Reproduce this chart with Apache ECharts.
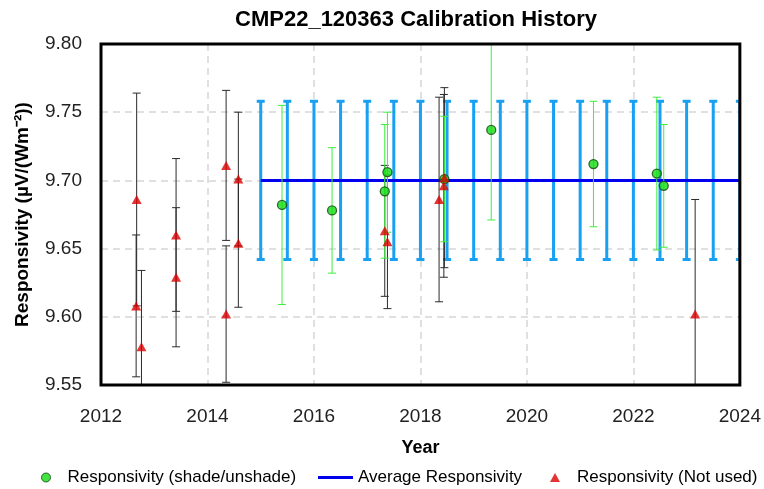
<!DOCTYPE html>
<html>
<head>
<meta charset="utf-8">
<script src="https://cdn.jsdelivr.net/npm/echarts@6/dist/echarts.min.js"></script>
<style>html,body{margin:0;padding:0;background:#fff}#c{width:764px;height:489px}</style>
</head>
<body>
<div id="c"></div>
<script>
// ---- data ----
const greenYears  = [2015.40, 2016.34, 2017.33, 2017.38, 2018.45, 2019.33, 2021.25, 2022.44, 2022.57];
const greenValues = [9.682, 9.678, 9.692, 9.706, 9.701, 9.737, 9.712, 9.705, 9.696];
const greenErrors = [0.073, 0.046, 0.049, 0.044, 0.046, 0.066, 0.046, 0.056, 0.045];

const redYears  = [2012.67, 2012.66, 2012.76, 2013.41, 2013.41, 2014.35, 2014.35, 2014.58, 2014.58, 2017.33, 2017.38, 2018.35, 2018.44, 2018.45, 2023.16];
const redValues = [9.686, 9.608, 9.578, 9.660, 9.629, 9.711, 9.602, 9.701, 9.654, 9.663, 9.655, 9.686, 9.696, 9.702, 9.602];
const redErrors = [0.078, 0.052, 0.056, 0.056, 0.051, 0.055, 0.050, 0.049, 0.047, 0.048, 0.049, 0.075, 0.067, 0.066, 0.084];

const avgYears = [2015.0, 2015.5, 2016.0, 2016.5, 2017.0, 2017.5, 2018.0, 2018.5, 2019.0, 2019.5, 2020.0, 2020.5, 2021.0, 2021.5, 2022.0, 2022.5, 2023.0, 2023.5, 2024.0];
const avgValue = 9.70;
const avgError = 0.058;

const xTicks = [2012, 2014, 2016, 2018, 2020, 2022, 2024];
const yTicks = [9.55, 9.60, 9.65, 9.70, 9.75, 9.80];

const titleText = 'CMP22_120363 Calibration History';
const xName = 'Year';
const yName = 'Responsivity (µV/(Wm⁻²))';
const nameGreen = 'Responsivity (shade/unshade)';
const nameAvg = 'Average Responsivity';
const nameRed = 'Responsivity (Not used)';

// ---- build ----
const zip3 = (a, b, c) => a.map((v, i) => [v, b[i], c[i]]);
const greenErr = zip3(greenYears, greenValues, greenErrors);
const redErr = zip3(redYears, redValues, redErrors);
const avgErr = avgYears.map(x => [x, avgValue, avgError]);

function errRender(color, width, capHalf) {
  return function (params, api) {
    const x = api.value(0), y = api.value(1), e = api.value(2);
    const t = api.coord([x, y + e]);
    const b = api.coord([x, y - e]);
    const st = { stroke: color, lineWidth: width, lineCap: 'butt' };
    return {
      type: 'group',
      children: [
        { type: 'line', shape: { x1: t[0], y1: t[1], x2: b[0], y2: b[1] }, style: st },
        { type: 'line', shape: { x1: t[0] - capHalf, y1: t[1], x2: t[0] + capHalf, y2: t[1] }, style: st },
        { type: 'line', shape: { x1: b[0] - capHalf, y1: b[1], x2: b[0] + capHalf, y2: b[1] }, style: st }
      ]
    };
  };
}

const FONT = '"Liberation Sans", Arial, sans-serif';
const chart = echarts.init(document.getElementById('c'));
const splitStyle = { color: '#d6d6d6', width: 1.5, type: [7, 5] };
chart.setOption({
  animation: false,
  backgroundColor: '#fff',
  title: {
    text: titleText, left: 411, top: 4, textAlign: 'center',
    textStyle: { fontFamily: FONT, fontWeight: 'bold', fontSize: 22, color: '#000' }
  },
  grid: {
    left: 101, right: 23, top: 44, bottom: 104, show: true, z: 10,
    borderColor: '#000', borderWidth: 3, backgroundColor: 'transparent'
  },
  legend: [
    { left: 36, top: 464, itemWidth: 9, itemHeight: 9, symbolKeepAspect: true,
      data: [{ name: nameGreen, icon: 'circle', itemStyle: { color: '#11dd11', borderColor: '#114411', borderWidth: 1 } }],
      textStyle: { fontFamily: FONT, fontSize: 17, color: '#000', padding: [0, 0, 0, 12] } },
    { left: 313, top: 464, itemWidth: 35, itemHeight: 3, data: [{ name: nameAvg, icon: 'rect' }],
      textStyle: { fontFamily: FONT, fontSize: 17, color: '#000' } },
    { left: 545, top: 464, itemWidth: 10, itemHeight: 9, symbolKeepAspect: true,
      data: [{ name: nameRed, icon: 'triangle' }],
      textStyle: { fontFamily: FONT, fontSize: 17, color: '#000', padding: [0, 0, 0, 12] } }
  ],
  xAxis: {
    type: 'value', min: xTicks[0], max: xTicks[xTicks.length - 1], interval: 2,
    name: xName, nameLocation: 'middle', nameGap: 54,
    nameTextStyle: { fontFamily: FONT, fontWeight: 'bold', fontSize: 18, color: '#000' },
    axisLine: { show: false }, axisTick: { show: false },
    axisLabel: { fontFamily: FONT, fontSize: 19, color: '#222', margin: 22, formatter: v => String(Math.round(v)) },
    splitLine: { show: true, showMinLine: false, showMaxLine: false, lineStyle: splitStyle }
  },
  yAxis: {
    type: 'value', min: yTicks[0], max: yTicks[yTicks.length - 1], interval: 0.05,
    name: yName, nameLocation: 'middle', nameGap: 69, nameRotate: 90,
    nameTextStyle: { fontFamily: FONT, fontWeight: 'bold', fontSize: 19, color: '#000' },
    axisLine: { show: false }, axisTick: { show: false },
    axisLabel: { fontFamily: FONT, fontSize: 19, color: '#222', margin: 19, formatter: v => v.toFixed(2) },
    splitLine: { show: true, showMinLine: false, showMaxLine: false, lineStyle: splitStyle }
  },
  series: [
    { type: 'custom', name: 'avgErr', clip: true, z: 2, renderItem: errRender('#18a0f3', 3, 4), data: avgErr, silent: true },
    { type: 'line', name: nameAvg, z: 3, data: avgYears.map(x => [x, avgValue]), symbol: 'none',
      lineStyle: { color: '#0000ee', width: 3 }, itemStyle: { color: '#0000ee' } },
    { type: 'custom', name: 'redErr', clip: true, z: 4, renderItem: errRender('#2a2a2a', 1, 4), data: redErr, silent: true },
    { type: 'custom', name: 'greenErr', clip: true, z: 5, renderItem: errRender('#3fee3f', 1, 4), data: greenErr, silent: true },
    { type: 'scatter', name: nameGreen, z: 6, data: greenYears.map((x, i) => [x, greenValues[i]]),
      symbol: 'circle', symbolSize: 9, itemStyle: { color: '#11dd11', borderColor: '#114411', borderWidth: 1.3 } },
    { type: 'scatter', name: nameRed, z: 7, data: redYears.map((x, i) => [x, redValues[i]]),
      symbol: 'triangle', symbolSize: [10, 9], itemStyle: { color: '#dd0000' } }
  ]
});
</script>
</body>
</html>
